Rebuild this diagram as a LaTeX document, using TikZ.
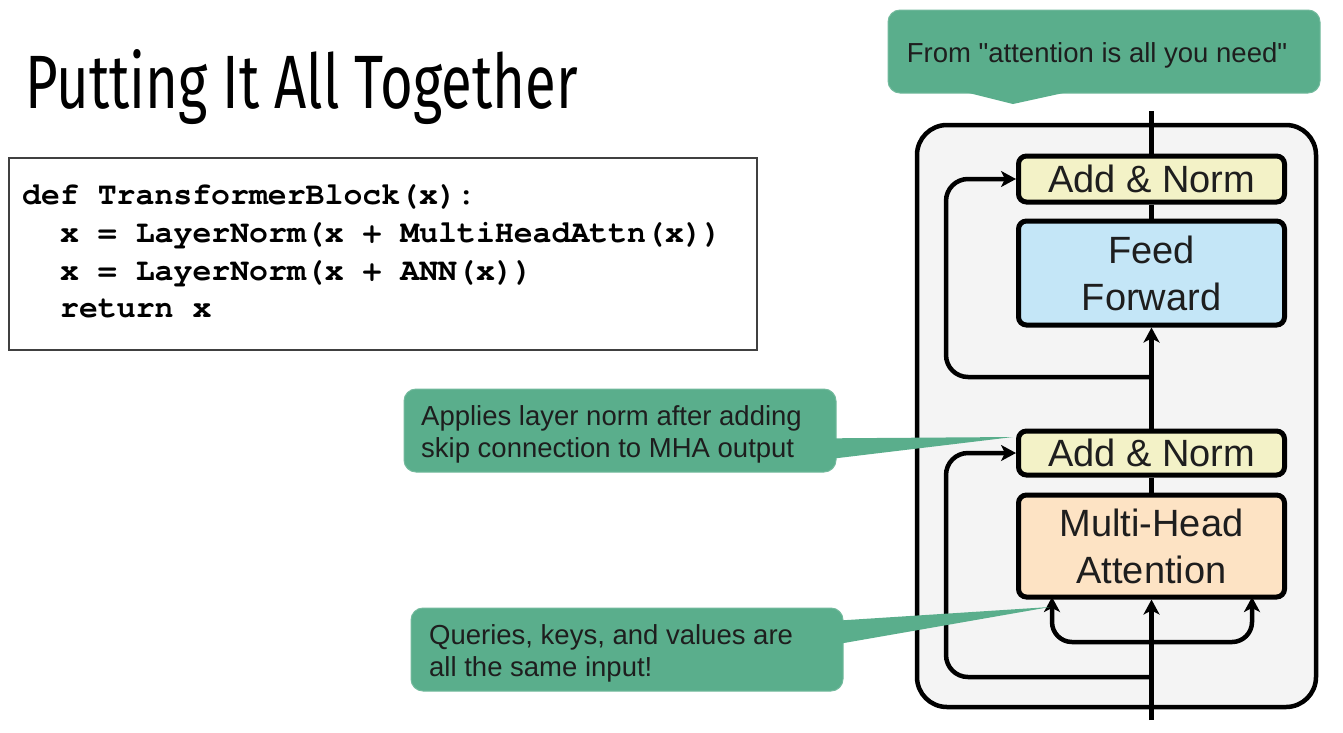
\documentclass[tikz,border=0pt]{standalone}
\usepackage{fontspec}
\setmainfont{Liberation Sans}
\newfontfamily\nomapfont{Liberation Sans}
\newfontfamily\codefont{texgyrecursor-bold.otf}
\newfontfamily\titlefont{Fira Sans}
\usetikzlibrary{arrows.meta,calc}
\definecolor{cgreen}{RGB}{90,174,140}
\definecolor{cyellow}{RGB}{243,242,199}
\definecolor{cblue}{RGB}{196,230,247}
\definecolor{corange}{RGB}{253,227,196}
\definecolor{cpanel}{RGB}{244,244,244}
\definecolor{ctext}{RGB}{30,30,30}
\tikzset{
  blk/.style={draw=black, line width=5pt, rounded corners=8pt, minimum width=266pt,
    inner sep=0pt, font=\fontsize{38}{47}\selectfont, text=ctext, align=center},
  wire/.style={draw=black, line width=4.5pt},
  arr/.style={wire, -{Stealth[length=15pt,width=16pt,inset=4pt]}},
  callbox/.style={fill=cgreen, draw=cgreen!85!white, line width=1pt, rounded corners=12pt,
    minimum width=432pt, minimum height=83pt, inner sep=0pt},
  calltext/.style={inner sep=0pt, align=left, text=ctext, font=\fontsize{27.5}{32}\selectfont},
  codeline/.style={inner sep=0pt, anchor=base west, font=\codefont\fontsize{31.5}{38}\selectfont}
}
\begin{document}
\begin{tikzpicture}[x=1pt,y=-1pt]
\useasboundingbox[fill=white] (0,0) rectangle (1343,732);

% title
\node[inner sep=0pt, anchor=base west] (title) at (25,108)
  {\resizebox{553pt}{59pt}{\titlefont\fontsize{86}{90}\selectfont Putting It All Together}};

% code box
\node[draw=black!75, line width=1.3pt, minimum width=748pt, minimum height=192pt, inner sep=0pt] (code) at (383,254) {};
\node[codeline] (code1) at (22,204) {def TransformerBlock(x):};
\node[codeline] (code2) at (60,242) {x = LayerNorm(x + MultiHeadAttn(x))};
\node[codeline] (code3) at (60,280) {x = LayerNorm(x + ANN(x))};
\node[codeline] (code4) at (60,317) {return x};

% transformer block panel
\node[draw=black, fill=cpanel, line width=4.5pt, rounded corners=30pt, minimum width=399pt, minimum height=582pt, inner sep=0pt] (panel) at (1116.5,416) {};

\coordinate (topout) at (1151.5,111);
\coordinate (botin) at (1151.5,720);
\coordinate (s1) at (1151.5,377);
\coordinate (s2) at (1151.5,677);
\coordinate (q) at (1151.5,642);
\coordinate (c1) at (946,179);
\coordinate (c2) at (946,453);
\coordinate (ql) at (1052,597);
\coordinate (qr) at (1252,597);

% blocks
\node[blk, fill=cyellow, minimum height=46pt] (an2) at (1151.5,179) {Add \& Norm};
\node[blk, fill=cblue, minimum height=104pt] (ff) at (1151.5,273) {Feed\\Forward};
\node[blk, fill=cyellow, minimum height=44pt] (an1) at (1151.5,453) {Add \& Norm};
\node[blk, fill=corange, minimum height=102pt] (mha) at (1151.5,546) {Multi-Head\\Attention};

% connectors
\draw[wire] (topout) -- (an2.north);
\draw[wire] (an2.south) -- (ff.north);
\draw[arr] (an1.north) -- (ff.south);
\draw[wire] (an1.south) -- (mha.north);
\draw[arr] (botin) -- (mha.south);
\draw[arr, rounded corners=22pt] (s1) -| (c1) -- (an2.west);
\draw[arr, rounded corners=22pt] (s2) -| (c2) -- (an1.west);
\draw[arr, rounded corners=20pt] (q) -| (ql);
\draw[arr, rounded corners=20pt] (q) -| (qr);

% callouts
\node[callbox] (cfrom) at (1104,51.5) {};
\fill[cgreen] (957,90) -- (1013,104) -- (1077,90) -- cycle;
\node[inner sep=0pt, anchor=base, text=ctext, font=\nomapfont\fontsize{27.5}{32}\selectfont] (tfrom) at (1097,62) {From "attention is all you need"};

\node[callbox] (cnorm) at (620,430.5) {};
\fill[cgreen] (834,438.3) -- (1013,437) -- (834,458.5) -- cycle;
\node[calltext, anchor=west] (tnorm) at (421,434) {Applies layer norm after adding\\skip connection to MHA output};

\node[callbox] (cqkv) at (627,649.5) {};
\fill[cgreen] (841,620.4) -- (1050,607) -- (841,643.5) -- cycle;
\node[calltext, anchor=west] (tqkv) at (429,653.5) {Queries, keys, and values are\\all the same input!};
\end{tikzpicture}
\end{document}
